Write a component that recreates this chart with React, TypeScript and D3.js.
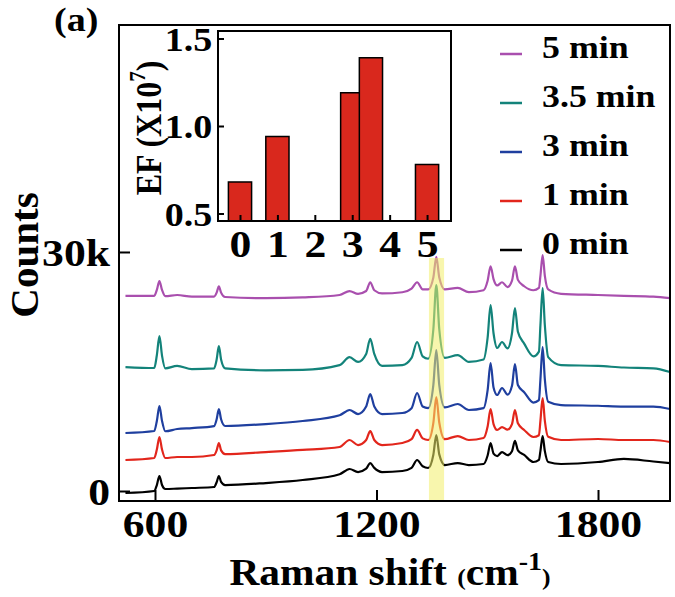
import { useEffect, useRef } from 'react';
import * as d3 from 'd3';

const width = 675;
const height = 597;
const plot = { left: 119, top: 25, right: 670, bottom: 501 };
const inset = { left: 218, top: 31, right: 451, bottom: 221 };
const font = '"Liberation Serif", "Times New Roman", serif';
const stretch = 1.12;

// Raman shift positions (cm-1) shared by every spectrum
const shifts = [
  520, 598, 605, 612, 619, 628, 660, 700, 760, 767, 773, 779, 790, 900, 1000,
  1100, 1127, 1150, 1172, 1183, 1194, 1215, 1270, 1295, 1310, 1325, 1340, 1354,
  1362, 1370, 1385, 1420, 1450, 1490, 1501, 1509, 1517, 1527, 1540, 1555, 1567,
  1575, 1583, 1600, 1625, 1640, 1644, 1650, 1656, 1665, 1700, 1800, 1870, 1950, 1995,
];

const counts5min = [
  24500, 24500, 25240, 26350, 25240, 24450, 24600, 24400, 24400, 24900, 25700, 24900, 24350, 24200, 24300,
  24600, 25100, 24750, 25100, 26200, 25200, 24800, 24950, 25400, 26200, 25300, 25300, 26800,
  29400, 26800, 25300, 25500, 24950, 25200, 26400, 28200, 26600, 25800, 26200, 25600, 26400,
  28200, 26500, 25700, 25200, 25500, 27000, 29600, 27000, 25300, 24750, 24600, 24500, 24400, 24200,
];
const counts3_5min = [
  15560, 15440, 17040, 19450, 17000, 15400, 15700, 15300, 15400, 16500, 18200, 16500, 15400, 15150, 15200,
  15800, 16800, 16200, 17200, 19100, 17200, 15700, 15800, 16700, 18700, 16900, 16600, 20300,
  25850, 20300, 16700, 17050, 16200, 16500, 19240, 23340, 19800, 17950, 18700, 17900, 19800,
  22970, 20000, 18500, 16900, 17500, 20800, 25480, 20800, 16800, 15800, 15700, 15500, 15400, 14930,
];
const counts3min = [
  7280, 7530, 8790, 10670, 8800, 7500, 7780, 7900, 8150, 9000, 10290, 9000, 8160, 8400, 8790,
  9500, 10170, 9660, 10600, 12170, 10600, 9660, 9790, 10400, 12300, 10600, 10400, 13320,
  17700, 13300, 10500, 10920, 10170, 10400, 12660, 16060, 13000, 12050, 12930, 12100, 13200,
  15940, 13300, 12400, 11100, 11400, 14000, 18070, 14000, 11200, 10790, 10700, 10600, 10600, 10290,
];
const counts1min = [
  3890, 4140, 5200, 6780, 5200, 4140, 4270, 4270, 4520, 5100, 6020, 5100, 4640, 4890, 5150,
  5520, 6400, 5770, 6400, 7530, 6400, 5770, 6020, 6500, 7660, 6600, 6400, 8560,
  11800, 8600, 6500, 6900, 6400, 6650, 8100, 10290, 8400, 7660, 8030, 7700, 8400,
  10170, 8500, 7660, 6780, 7000, 8800, 11670, 8800, 6800, 6400, 6530, 6400, 6400, 6150,
];
const counts0min = [
  -250, 0, 750, 1880, 750, 250, 300, 380, 500, 1100, 1880, 1150, 750, 1000, 1380,
  2100, 2760, 2380, 2800, 3510, 2900, 2380, 2510, 2900, 3890, 3100, 2890, 4550,
  7030, 4600, 3260, 3510, 3260, 3390, 4450, 6020, 4700, 4390, 4890, 4500, 5000,
  6280, 5100, 4520, 3640, 3900, 5000, 6900, 5000, 3640, 3390, 3640, 4020, 3700, 3510,
];

const seriesLabels = ['5 min', '3.5 min', '3 min', '1 min', '0 min'];
const seriesColors = ['#a94fae', '#13837a', '#1f3f9f', '#e2261c', '#000000'];
const seriesCounts = [counts5min, counts3_5min, counts3min, counts1min, counts0min];

const xTicks = [600, 1200, 1800];
const yTicks = [0, 30000];
const yTickLabels = ['0', '30k'];
const band = [1342, 1383];

// inset: enhancement factor vs. time
const efTimes = [0, 1, 3, 3.5, 5];
const efValues = [0.68, 0.94, 1.19, 1.39, 0.78];
const efXTicks = [0, 1, 2, 3, 4, 5];
const efYTicks = [0.5, 1.0, 1.5];

export default function App() {
  const ref = useRef<SVGSVGElement>(null);

  useEffect(() => {
    const svg = d3.select(ref.current);
    svg.selectAll('*').remove();

    const x = d3.scaleLinear().domain([502.5, 1995]).range([plot.left, plot.right]);
    const y = d3.scaleLinear().domain([-1255, 58490]).range([plot.bottom, plot.top]);

    const text = (g: any, str: string, tx: number, ty: number, size: number, anchor = 'start') =>
      g.append('text')
        .attr('transform', `translate(${tx},${ty}) scale(${stretch},1)`)
        .attr('text-anchor', anchor)
        .attr('font-family', font)
        .attr('font-weight', 'bold')
        .attr('font-size', size)
        .text(str);

    // spectra
    const line = d3.line<number>()
      .x((_, i) => x(shifts[i]))
      .y(d => y(d))
      .curve(d3.curveMonotoneX);

    seriesCounts.forEach((c, i) => {
      svg.append('path')
        .attr('d', line(c))
        .attr('fill', 'none')
        .attr('stroke', seriesColors[i])
        .attr('stroke-width', 2.2)
        .attr('stroke-linejoin', 'round');
    });

    // highlighted 1362 band
    svg.append('rect')
      .attr('x', x(band[0]))
      .attr('width', x(band[1]) - x(band[0]))
      .attr('y', 258)
      .attr('height', plot.bottom - 258)
      .attr('fill', '#f2ee6a')
      .attr('opacity', 0.55);

    // frame
    svg.append('rect')
      .attr('x', plot.left).attr('y', plot.top)
      .attr('width', plot.right - plot.left).attr('height', plot.bottom - plot.top)
      .attr('fill', 'none').attr('stroke', '#000').attr('stroke-width', 2);

    const xAxis = d3.axisBottom(x).tickValues(xTicks).tickSizeInner(-11).tickSizeOuter(0)
      .tickFormat(d3.format('d'));
    svg.append('g')
      .attr('transform', `translate(0,${plot.bottom})`)
      .call(xAxis)
      .call(g => g.select('.domain').remove())
      .call(g => g.selectAll('line').attr('stroke-width', 2))
      .call(g => g.selectAll('text')
        .attr('y', 36).attr('dy', null)
        .attr('transform', `scale(${stretch},1)`)
        .attr('font-family', font).attr('font-weight', 'bold').attr('font-size', 39).attr('fill', '#000'));

    const yAxis = d3.axisLeft(y).tickValues(yTicks).tickSizeInner(-11).tickSizeOuter(0)
      .tickFormat((d, i) => yTickLabels[i]);
    svg.append('g')
      .attr('transform', `translate(${plot.left},0)`)
      .call(yAxis)
      .call(g => g.select('.domain').remove())
      .call(g => g.selectAll('line').attr('stroke-width', 2))
      .call(g => g.selectAll('text')
        .attr('x', -8).attr('dy', '0.34em')
        .attr('transform', `scale(${stretch},1)`)
        .attr('font-family', font).attr('font-weight', 'bold').attr('font-size', 39).attr('fill', '#000'));

    // axis titles
    svg.append('text')
      .attr('transform', 'translate(38,255) rotate(-90)')
      .attr('text-anchor', 'middle')
      .attr('font-family', font).attr('font-weight', 'bold').attr('font-size', 41)
      .text('Counts');

    const xt = svg.append('text')
      .attr('transform', `translate(390,585) scale(${stretch},1)`)
      .attr('text-anchor', 'middle')
      .attr('font-family', font).attr('font-weight', 'bold').attr('font-size', 37);
    xt.append('tspan').text('Raman shift ');
    xt.append('tspan').attr('font-size', 23).text('(');
    xt.append('tspan').text('cm');
    xt.append('tspan').attr('font-size', 25).attr('dy', -15).text('-1');
    xt.append('tspan').attr('font-size', 23).attr('dy', 15).text(')');

    text(svg, '(a)', 54, 31, 34);

    // legend
    seriesLabels.forEach((lab, i) => {
      const base = 58 + i * 49;
      svg.append('line')
        .attr('x1', 500).attr('x2', 522)
        .attr('y1', base - 4).attr('y2', base - 4)
        .attr('stroke', seriesColors[i]).attr('stroke-width', 2.5);
      text(svg, lab, 542, base, 32);
    });

    // inset
    const ix = d3.scaleLinear().domain([-0.588, 5.64]).range([inset.left, inset.right]);
    const iy = d3.scaleLinear().domain([0.457, 1.543]).range([inset.bottom, inset.top]);
    const ig = svg.append('g');
    ig.append('rect')
      .attr('x', inset.left).attr('y', inset.top)
      .attr('width', inset.right - inset.left).attr('height', inset.bottom - inset.top)
      .attr('fill', '#fff');

    const barW = ix(0.62) - ix(0);
    ig.selectAll('rect.bar')
      .data(efValues)
      .join('rect')
      .attr('class', 'bar')
      .attr('x', (_, i) => ix(efTimes[i]) - barW / 2)
      .attr('width', barW)
      .attr('y', d => iy(d))
      .attr('height', d => inset.bottom - iy(d))
      .attr('fill', '#d9281d')
      .attr('stroke', '#000')
      .attr('stroke-width', 1.5);

    ig.append('g')
      .attr('transform', `translate(0,${inset.bottom})`)
      .call(d3.axisBottom(ix).tickValues(efXTicks).tickSizeInner(-6).tickSizeOuter(0).tickFormat(d3.format('d')))
      .call(g => g.select('.domain').remove())
      .call(g => g.selectAll('line').attr('stroke-width', 2))
      .call(g => g.selectAll('text')
        .attr('y', 36).attr('dy', null)
        .attr('transform', `scale(${stretch},1)`)
        .attr('font-family', font).attr('font-weight', 'bold').attr('font-size', 39).attr('fill', '#000'));

    ig.append('g')
      .attr('transform', `translate(${inset.left},0)`)
      .call(d3.axisLeft(iy).tickValues(efYTicks).tickSizeInner(-6).tickSizeOuter(0).tickFormat(d3.format('.1f')))
      .call(g => g.select('.domain').remove())
      .call(g => g.selectAll('line').attr('stroke-width', 2))
      .call(g => g.selectAll('text')
        .attr('x', -5).attr('dy', '0.34em')
        .attr('transform', `scale(${stretch},1)`)
        .attr('font-family', font).attr('font-weight', 'bold').attr('font-size', 34).attr('fill', '#000'));

    ig.append('rect')
      .attr('x', inset.left).attr('y', inset.top)
      .attr('width', inset.right - inset.left).attr('height', inset.bottom - inset.top)
      .attr('fill', 'none').attr('stroke', '#000').attr('stroke-width', 2);

    const ef = svg.append('text')
      .attr('transform', `translate(161,128) rotate(-90) scale(1,${stretch})`)
      .attr('text-anchor', 'middle')
      .attr('font-family', font).attr('font-weight', 'bold').attr('font-size', 32);
    ef.append('tspan').text('EF (X10');
    ef.append('tspan').attr('font-size', 21).attr('dy', -14).text('7');
    ef.append('tspan').attr('dy', 14).text(')');
  }, []);

  return (
    <svg ref={ref} width={width} height={height}
      style={{ position: 'absolute', left: 0, top: 0, background: '#fff' }} />
  );
}
